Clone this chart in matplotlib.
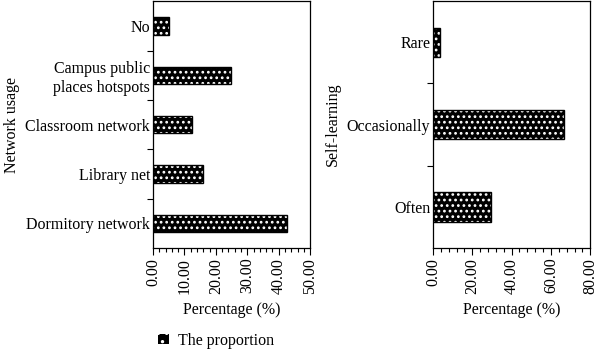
import matplotlib
matplotlib.use("Agg")
import matplotlib.pyplot as plt
from matplotlib.patches import Patch
from matplotlib.ticker import MultipleLocator, FixedLocator

plt.rcParams["font.family"] = ["Liberation Serif", "DejaVu Serif"]
plt.rcParams["hatch.linewidth"] = 1.2

# data
net_labels = ["Dormitory network", "Library net", "Classroom network",
              "Campus public\nplaces hotspots", "No"]
net_values = [42.5, 15.8, 12.3, 24.7, 5.1]

self_labels = ["Often", "Occasionally", "Rare"]
self_values = [29.5, 66.8, 3.7]

net_ticks = [0, 10, 20, 30, 40, 50]
self_ticks = [0, 20, 40, 60, 80]

fs = 11.5
HATCH = "..."


def hatched_barh(ax, labels, values, height):
    pos = list(range(len(labels)))
    ax.barh(pos, values, height=height, color="black", edgecolor="white",
            hatch=HATCH, linewidth=0)
    ax.barh(pos, values, height=height, color="none", edgecolor="black",
            linewidth=1.0)
    ax.set_ylim(-0.5, len(labels) - 0.5)
    ax.set_yticks(pos)
    ax.set_yticklabels(labels, fontsize=fs)
    ax.tick_params(axis="y", which="major", length=0, pad=2)
    ax.yaxis.set_minor_locator(FixedLocator([p + 0.5 for p in pos[:-1]]))
    ax.tick_params(axis="y", which="minor", length=4, width=0.8, direction="out")
    ax.tick_params(axis="x", which="major", length=5, width=0.8, direction="out",
                   labelsize=fs, labelrotation=90, pad=2)
    ax.tick_params(axis="x", which="minor", length=3, width=0.8, direction="out")
    for s in ax.spines.values():
        s.set_linewidth(0.9)
    ax.set_xlabel("Percentage (%)", fontsize=fs, labelpad=6)


fig = plt.figure(figsize=(6, 3.53), dpi=100)
ax1 = fig.add_axes([0.255, 0.2975, 0.262, 0.699])
ax2 = fig.add_axes([0.7217, 0.2975, 0.262, 0.699])

hatched_barh(ax1, net_labels, net_values, 0.35)
ax1.set_xlim(0, 50)
ax1.set_xticks(net_ticks)
ax1.set_xticklabels([f"{t:.2f}" for t in net_ticks])
ax1.xaxis.set_minor_locator(MultipleLocator(2))
ax1.set_ylabel("Network usage", fontsize=fs, labelpad=4)

hatched_barh(ax2, self_labels, self_values, 0.36)
ax2.set_xlim(0, 80)
ax2.set_xticks(self_ticks)
ax2.set_xticklabels([f"{t:.2f}" for t in self_ticks])
ax2.xaxis.set_minor_locator(MultipleLocator(4))
ax2.set_ylabel("Self-learning", fontsize=fs, labelpad=4)

handle = Patch(facecolor="black", edgecolor="white", hatch="..", linewidth=0)
fig.legend([handle], ["The proportion"], loc="center left",
           bbox_to_anchor=(0.24, 0.035), frameon=False, fontsize=fs,
           handlelength=0.65, handleheight=0.65, handletextpad=0.6)

fig.savefig("out.png", dpi=100)
